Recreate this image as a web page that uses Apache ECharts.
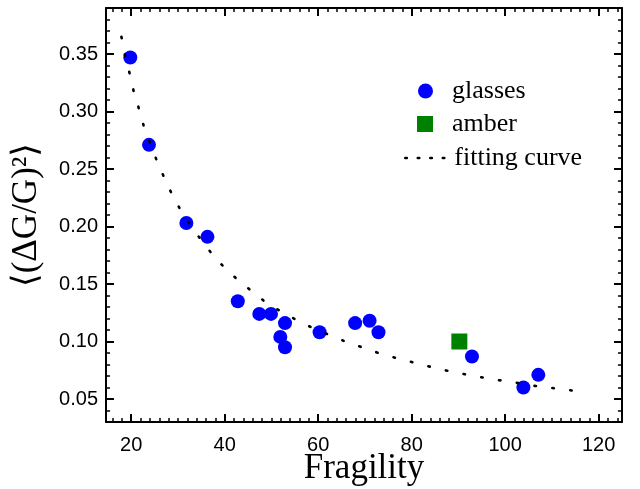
<!DOCTYPE html>
<html>
<head>
<meta charset="utf-8">
<script src="https://cdn.jsdelivr.net/npm/echarts@6/dist/echarts.min.js"></script>
<style>html,body{margin:0;padding:0;background:#fff;}#main{width:640px;height:489px;}</style>
</head>
<body>
<div id="main"></div>
<script>
// Data
var glassesFragility = [19.8, 23.8, 31.8, 36.3, 42.8, 47.4, 49.9, 52.9, 51.9, 52.9, 60.3, 67.9, 71.0, 72.9, 92.9, 103.9, 107.1];
var glassesValue     = [0.347, 0.271, 0.203, 0.191, 0.135, 0.124, 0.124, 0.116, 0.104, 0.095, 0.108, 0.116, 0.118, 0.108, 0.087, 0.060, 0.071];
var amberFragility = [90.2];
var amberValue     = [0.100];
var curveFragility = [17.9, 18.6, 19.6, 20.5, 21.6, 22.7, 24.1, 25.4, 27.0, 28.6, 30.6, 32.7, 35.0, 37.5, 40.0, 42.7, 45.7, 48.8, 52.1, 55.7, 59.2, 62.8, 66.4, 70.1, 73.6, 77.3, 81.1, 85.0, 89.3, 93.4, 97.4, 101.3, 105.1, 109.1, 113.1, 117.0];
var curveValue     = [0.365, 0.350, 0.334, 0.318, 0.303, 0.287, 0.272, 0.258, 0.243, 0.229, 0.214, 0.201, 0.188, 0.175, 0.164, 0.154, 0.144, 0.134, 0.126, 0.118, 0.111, 0.105, 0.099, 0.094, 0.089, 0.085, 0.081, 0.077, 0.073, 0.070, 0.067, 0.065, 0.062, 0.060, 0.058, 0.056];

function pairs(xs, ys) { return xs.map(function (x, i) { return [x, ys[i]]; }); }

var serif = "'Liberation Serif', 'DejaVu Serif', serif";
var sans = "'Liberation Sans', Arial, sans-serif";

function xAx(pos, showLabel) {
  return {
    type: 'value', position: pos, min: 14.6, max: 125, splitNumber: 5,
    axisLine: { show: true, onZero: false, lineStyle: { color: '#000', width: 2 } },
    axisTick: { show: true, inside: true, length: 8, lineStyle: { color: '#000', width: 2 } },
    minorTick: { show: true, splitNumber: 10, length: 4, lineStyle: { color: '#000', width: 1.5 } },
    splitLine: { show: false }, minorSplitLine: { show: false },
    axisLabel: { show: showLabel, showMinLabel: false, showMaxLabel: false, fontSize: 20, color: '#000', fontFamily: sans, margin: 13 },
    name: showLabel ? 'Fragility' : '', nameLocation: 'middle', nameGap: 29, nameMoveOverlap: false,
    nameTextStyle: { fontSize: 35, lineHeight: 35, color: '#000', fontFamily: serif }
  };
}
function yAx(pos, showLabel) {
  return {
    type: 'value', position: pos, min: 0.03, max: 0.39, splitNumber: 7,
    axisLine: { show: true, onZero: false, lineStyle: { color: '#000', width: 2 } },
    axisTick: { show: true, inside: true, length: 8, lineStyle: { color: '#000', width: 2 } },
    minorTick: { show: true, splitNumber: 5, length: 4, lineStyle: { color: '#000', width: 1.5 } },
    splitLine: { show: false }, minorSplitLine: { show: false },
    axisLabel: { show: showLabel, showMinLabel: false, showMaxLabel: false, fontSize: 20, color: '#000', fontFamily: sans, margin: 8,
      formatter: function (v) { return v.toFixed(2); } },
    name: showLabel ? '\u27E8(\u0394G/G)\u00B2\u27E9' : '', nameLocation: 'middle', nameGap: 62, nameMoveOverlap: false,
    nameTextStyle: { fontSize: 35, color: '#000', fontFamily: serif }
  };
}

var chart = echarts.init(document.getElementById('main'), null, { renderer: 'canvas' });
chart.setOption({
  animation: false,
  backgroundColor: '#fff',
  grid: { left: 106, right: 18, top: 8, bottom: 67, containLabel: false, outerBoundsMode: 'none' },
  xAxis: [xAx('bottom', true), xAx('top', false)],
  yAxis: [yAx('left', true), yAx('right', false)],
  legend: [
    { data: ['glasses'], orient: 'vertical', left: 418, top: 78, padding: 0, itemWidth: 15, itemHeight: 15,
      textStyle: { fontSize: 26, lineHeight: 26, fontFamily: serif, color: '#000', padding: [0, 0, 0, 14] } },
    { data: ['amber'], orient: 'vertical', left: 417, top: 111, padding: 0, itemWidth: 16, itemHeight: 16,
      textStyle: { fontSize: 26, lineHeight: 26, fontFamily: serif, color: '#000', padding: [0, 0, 0, 14] } },
    { data: ['fitting curve'], orient: 'vertical', left: 404, top: 145, padding: 0, itemWidth: 40, itemHeight: 14,
      itemStyle: { opacity: 0 },
      lineStyle: { type: [1.5, 11], width: 2.6, cap: 'round', color: '#000' },
      textStyle: { fontSize: 26, lineHeight: 26, fontFamily: serif, color: '#000', padding: [0, 0, 0, 4] } }
  ],
  series: [
    { name: 'glasses', type: 'scatter', xAxisIndex: 0, yAxisIndex: 0, symbol: 'circle', symbolSize: 14,
      itemStyle: { color: '#0000ff', opacity: 1 }, data: pairs(glassesFragility, glassesValue), z: 2 },
    { name: 'amber', type: 'scatter', xAxisIndex: 0, yAxisIndex: 0, symbol: 'rect', symbolSize: 16,
      itemStyle: { color: '#008000', opacity: 1 }, data: pairs(amberFragility, amberValue), z: 2 },
    { name: 'fitting curve', type: 'line', xAxisIndex: 0, yAxisIndex: 0, showSymbol: false, symbol: 'none',
      itemStyle: { color: '#000' },
      lineStyle: { color: '#000', width: 2.6, type: [1.5, 16.5], cap: 'round' },
      data: pairs(curveFragility, curveValue), z: 3 }
  ]
});
</script>
</body>
</html>
